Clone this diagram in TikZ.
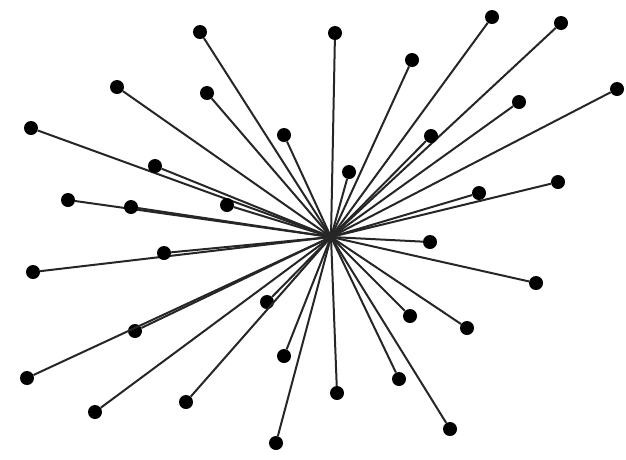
\documentclass[tikz,border=0pt]{standalone}

\tikzset{
    leaf/.style={circle, fill=black, inner sep=0pt, minimum size=14pt},
    spoke/.style={draw=black!85, line width=2pt}
}

\begin{document}
\begin{tikzpicture}[x=1pt, y=-1pt]
    \useasboundingbox (0,0) rectangle (626,459);

    \coordinate (hub) at (331,237);

    % leaves, clockwise-ish from the top left
    \foreach \x/\y [count=\i] in {
        200/32, 117/87, 207/93, 284/135, 31/128, 155/166, 68/200, 131/207,
        227/205, 335/33, 412/60, 492/17, 561/23, 617/89, 519/102, 431/136,
        349/172, 479/193, 558/182, 33/272, 164/253, 135/331, 27/378, 95/412,
        267/302, 186/402, 284/356, 276/443, 430/242, 536/283, 410/316,
        467/328, 399/379, 337/393, 450/429}
    {
        \node [leaf] (l\i) at (\x,\y) {};
        \draw [spoke] (hub) -- (l\i);
    }
\end{tikzpicture}
\end{document}
